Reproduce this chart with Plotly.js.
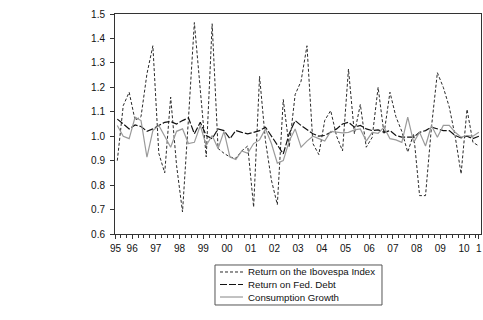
<!DOCTYPE html>
<html>
<head>
<meta charset="utf-8">
<script src="https://cdn.plot.ly/plotly-3.0.1.min.js"></script>
<style>html,body{margin:0;padding:0;background:#fff;}#chart{width:483px;height:320px;}</style>
</head>
<body>
<div id="chart"></div>
<script>
// Quarterly observations, 1995Q2 onward (index 0 = first quarter)
const ibovespa = [0.90,1.125,1.18,1.065,1.08,1.255,1.37,0.93,0.85,1.16,0.88,0.69,1.07,1.465,1.19,0.915,1.46,0.95,0.93,0.915,0.91,0.94,0.96,0.71,1.245,0.98,0.82,0.72,1.15,0.955,1.17,1.225,1.37,0.97,0.925,1.065,1.105,1.0,0.94,1.275,1.01,1.13,0.955,0.995,1.2,1.01,1.18,1.08,1.02,0.935,1.01,0.757,0.757,1.037,1.26,1.2,1.12,1.0,0.846,1.11,0.975,0.96];
const fedDebt = [1.07,1.05,1.03,1.046,1.04,1.02,1.03,1.044,1.057,1.06,1.05,1.064,1.075,1.01,1.057,1.003,0.99,1.03,1.023,0.99,1.023,1.016,1.01,1.016,1.023,1.037,1.0,0.96,0.928,1.01,1.064,1.044,1.027,1.01,1.0,1.003,1.016,1.03,1.05,1.057,1.037,1.044,1.03,1.023,1.026,1.016,1.023,1.003,0.996,0.997,0.996,1.016,1.023,1.037,1.03,1.023,1.023,1.003,0.993,1.0,0.99,1.0];
const consumption = [1.044,1.0,0.99,1.078,1.064,0.914,1.023,1.044,1.0,0.955,1.02,1.03,0.97,0.975,1.044,0.962,1.003,0.95,1.02,0.915,0.905,0.94,0.93,0.97,0.985,1.03,0.97,0.89,0.9,0.98,1.03,0.955,0.98,1.0,0.99,0.98,1.02,1.016,1.014,1.016,1.026,1.03,0.98,1.016,1.012,1.037,0.99,0.985,0.975,1.078,0.975,1.016,0.96,1.044,0.996,1.044,1.044,1.016,0.996,1.003,1.0,1.016];
const yearLabels = ["95","96","97","98","99","00","01","02","03","04","05","06","07","08","09","10","1"];
const yearPos = [-0.3,2.5,6.5,10.5,14.5,18.5,22.5,26.5,30.5,34.5,38.5,42.5,46.5,50.5,54.5,58.5,61.0];
const seriesNames = ["Return on the Ibovespa Index","Return on Fed. Debt","Consumption Growth"];

const styles = [
  {color: '#2a2a2a', width: 1, dash: '3px,2px'},
  {color: '#111111', width: 1.2, dash: '7px,2px'},
  {color: '#9a9a9a', width: 1.2, dash: 'solid'}
];
const seriesData = [ibovespa, fedDebt, consumption];
const idx = ibovespa.map((_, i) => i);
const traces = seriesData.map((ys, k) => ({
  x: idx, y: ys, name: seriesNames[k], type: 'scatter', mode: 'lines', line: styles[k]
}));

// legend drawn as a compact box below the plot (paper coordinates)
const boxX0 = 0.2732, boxX1 = 0.7295, boxY0 = -0.1409, boxY1 = -0.3227;
const rowY = [-0.1727, -0.2295, -0.2864];
const shapes = [{type: 'rect', xref: 'paper', yref: 'paper', x0: boxX0, x1: boxX1, y0: boxY0, y1: boxY1,
  line: {color: '#555', width: 1}, fillcolor: 'rgba(0,0,0,0)'}];
const annotations = [];
seriesNames.forEach((nm, k) => {
  shapes.push({type: 'line', xref: 'paper', yref: 'paper', x0: 0.2869, x1: 0.3497, y0: rowY[k], y1: rowY[k], line: styles[k]});
  annotations.push({xref: 'paper', yref: 'paper', x: 0.3580, y: rowY[k], xanchor: 'left', yanchor: 'middle',
    text: nm, showarrow: false, font: {size: 9.7, color: '#111'}});
});

const layout = {
  width: 483, height: 320,
  margin: {l: 115, r: 2, t: 14, b: 86},
  paper_bgcolor: '#fff', plot_bgcolor: '#fff',
  font: {family: 'Liberation Sans, Arial, sans-serif', size: 10, color: '#111'},
  showlegend: false,
  shapes: shapes, annotations: annotations,
  xaxis: {range: [-0.39, 61.36], showgrid: false, zeroline: false,
    showline: true, linecolor: '#333', linewidth: 1, mirror: true,
    tickmode: 'array', tickvals: yearPos, ticktext: yearLabels,
    ticks: 'outside', ticklen: 4, tickcolor: '#333', tickwidth: 1, ticklabelstandoff: 1,
    minor: {tickmode: 'linear', tick0: 0.5, dtick: 1, ticks: 'outside', ticklen: 3, tickcolor: '#333', showgrid: false},
    tickfont: {size: 10}},
  yaxis: {range: [0.6, 1.5], showgrid: false, zeroline: false,
    showline: true, linecolor: '#333', linewidth: 1, mirror: true,
    tickmode: 'linear', tick0: 0.6, dtick: 0.1, tickformat: '.1f', ticklabelstandoff: 3,
    ticks: 'outside', ticklen: 4, tickcolor: '#333', tickfont: {size: 10}}
};
Plotly.newPlot('chart', traces, layout, {displayModeBar: false, staticPlot: true});
</script>
</body>
</html>
